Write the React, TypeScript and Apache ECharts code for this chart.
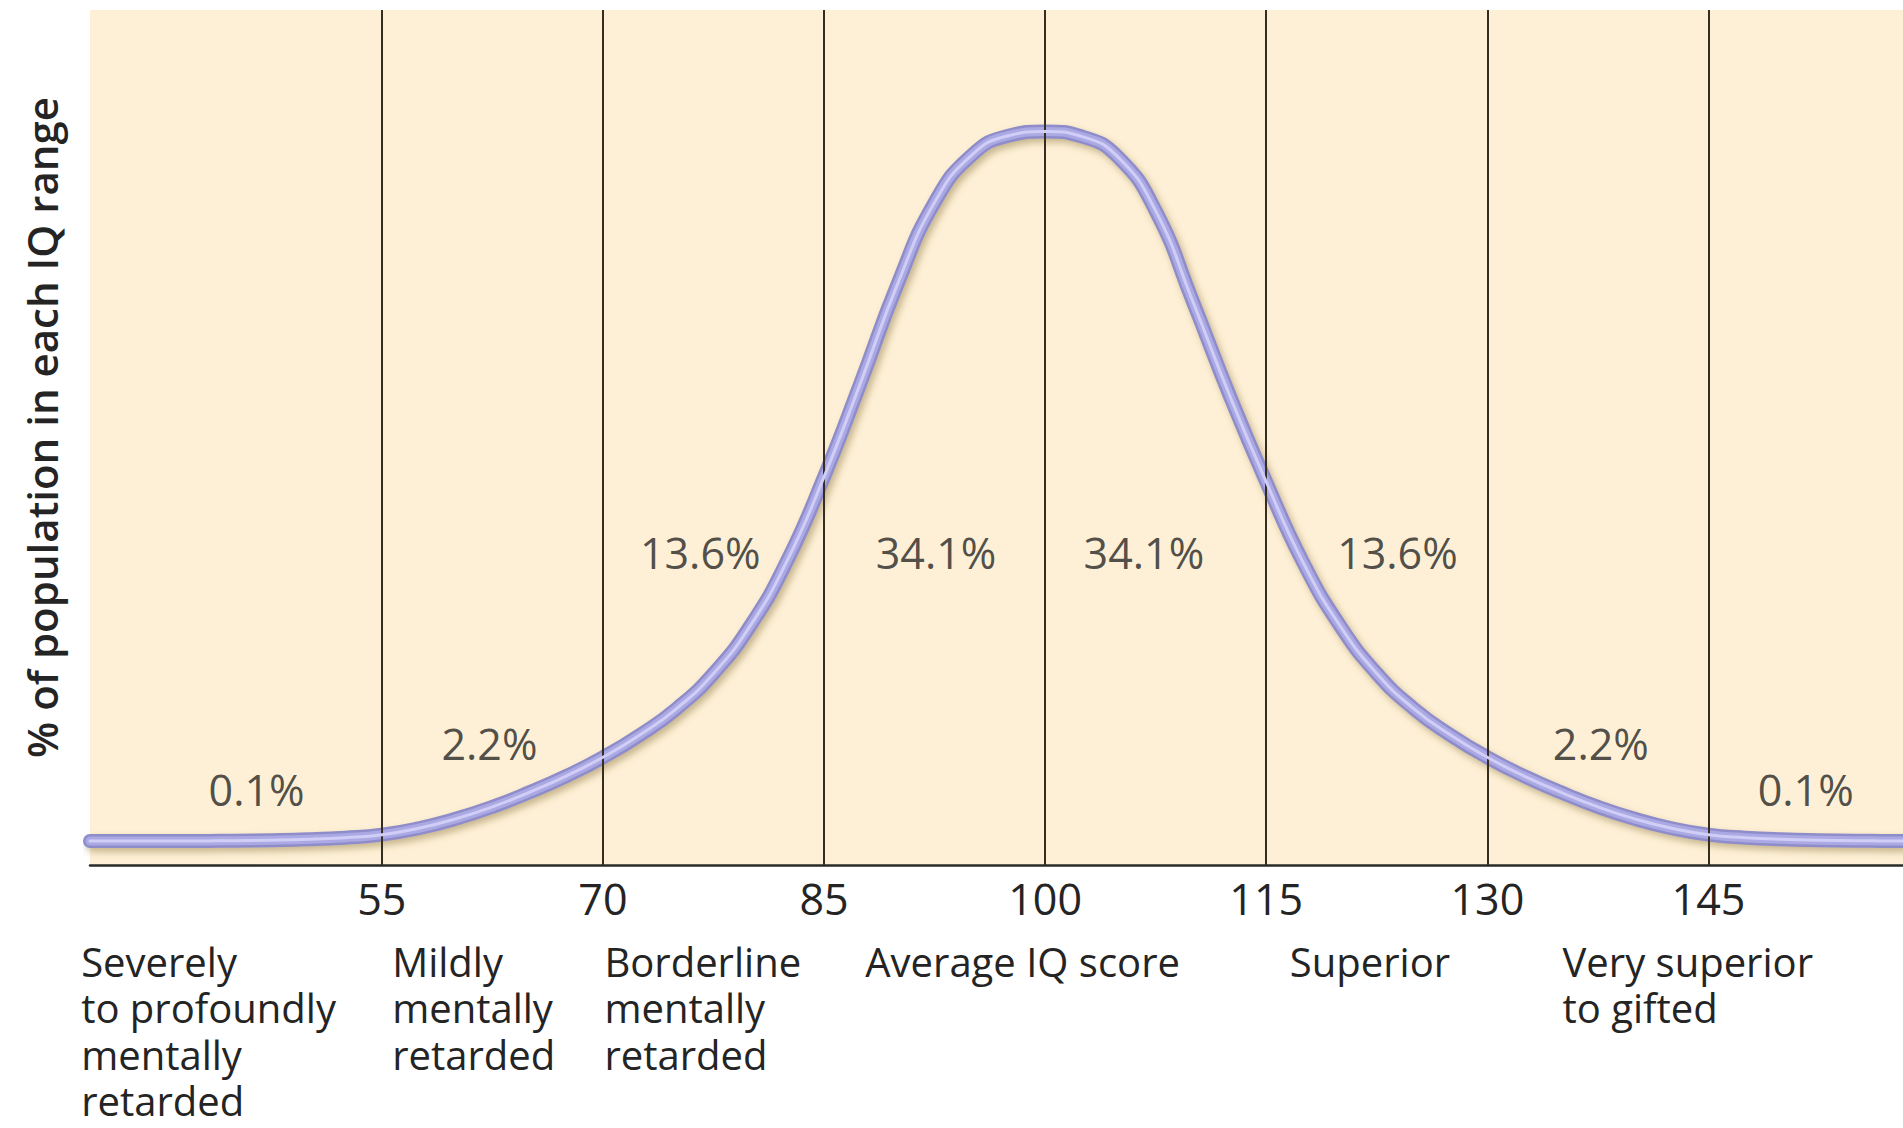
import React, { useEffect, useRef } from "react";
import * as echarts from "echarts";

// ---- data ----
const tickValues = [55, 70, 85, 100, 115, 130, 145];

const curveIQ = [
  35.2, 37.5, 40, 42.5, 45, 47.5, 50, 52.5, 55, 57.5, 60, 62.5, 65, 67.5, 70, 72.5, 75, 77.5, 80, 82.5,
  85, 87.5, 90, 92.5, 95, 97.5, 100, 102.5, 105, 107.5, 110, 112.5, 115, 117.5, 120, 122.5, 125, 127.5,
  130, 132.5, 135, 137.5, 140, 142.5, 145, 147.5, 150, 152.5, 155, 157.5, 158.2,
];
const curveHeight = [
  2.8, 2.8, 2.8, 2.8, 2.85, 2.9, 3.0, 3.2, 3.55, 4.3, 5.4, 6.8, 8.5, 10.4, 12.6, 15.2, 18.3, 22.4, 28.0, 35.6,
  45.4, 56.5, 68.0, 77.5, 83.0, 85.3, 85.8, 85.2, 82.7, 76.5, 66.0, 55.0, 44.8, 35.4, 28.0, 22.4, 18.3, 15.2,
  12.6, 10.4, 8.5, 6.8, 5.4, 4.3, 3.55, 3.2, 3.0, 2.9, 2.85, 2.8, 2.8,
];

const pctLabels = ["0.1%", "2.2%", "13.6%", "34.1%", "34.1%", "13.6%", "2.2%", "0.1%"];
const pctIQ = [46.5, 62.3, 76.6, 92.6, 106.7, 123.9, 137.7, 151.6];
const pctHeight = [8.8, 14.2, 36.6, 36.6, 36.6, 36.6, 14.2, 8.8];

const categoryLabels = [
  "Severely\nto profoundly\nmentally\nretarded",
  "Mildly\nmentally\nretarded",
  "Borderline\nmentally\nretarded",
  "Average IQ score",
  "Superior",
  "Very superior\nto gifted",
];
const categoryStartIQ = [34.6, 55.7, 70.1, 87.8, 116.6, 135.1];

const yTitle = "% of population in each IQ range";

const FONT = "'Open Sans', 'Noto Sans', sans-serif";
const TEXT = "#242424";

export default function App() {
  const ref = useRef<HTMLDivElement>(null);

  useEffect(() => {
    document.body.style.margin = "0";
    const chart = echarts.init(ref.current!, null, { renderer: "svg" });
    const curveData = curveIQ.map((x, i) => [x, curveHeight[i]]);
    const tube = (width: number, color: string, z: number, extra: any = {}) => ({
      type: "line",
      data: curveData,
      smooth: 0.5,
      showSymbol: false,
      symbol: "none",
      silent: true,
      z,
      lineStyle: { width, color, cap: "round", join: "round", ...extra },
    });

    chart.setOption({
      animation: false,
      backgroundColor: "#ffffff",
      grid: {
        left: 90,
        right: 0,
        top: 10,
        bottom: 263,
        show: true,
        backgroundColor: "#FEF0D6",
        borderWidth: 0,
      },
      xAxis: {
        type: "value",
        min: 35.2,
        max: 158.2,
        axisLine: { show: true, lineStyle: { color: "#2a2a2a", width: 2.5 } },
        axisTick: { show: false },
        splitLine: { show: false },
        axisLabel: {
          customValues: tickValues,
          fontSize: 43,
          fontFamily: FONT,
          color: TEXT,
          margin: 12,
        },
      },
      yAxis: {
        type: "value",
        min: 0,
        max: 100,
        axisLine: { show: false },
        axisTick: { show: false },
        axisLabel: { show: false },
        splitLine: { show: false },
        name: yTitle,
        nameLocation: "middle",
        nameRotate: 90,
        nameGap: 28,
        nameTextStyle: {
          fontSize: 42,
          fontWeight: 600,
          fontFamily: FONT,
          color: TEXT,
          padding: [0, 0, 0, 20],
        },
      },
      series: [
        {
          type: "line",
          data: [],
          z: 1,
          silent: true,
          markLine: {
            silent: true,
            symbol: ["none", "none"],
            label: { show: false },
            lineStyle: { color: "#352d20", width: 2, type: "solid" },
            emphasis: { disabled: true },
            data: tickValues.map((v) => ({ xAxis: v })),
          },
        },
        tube(14, "#8f8cca", 3, {
          shadowColor: "rgba(130,110,50,0.45)",
          shadowBlur: 7,
          shadowOffsetX: 3,
          shadowOffsetY: 4,
        }),
        tube(9, "#aba9e4", 4),
        tube(3, "#d0cef6", 5),
        {
          type: "scatter",
          z: 6,
          silent: true,
          symbolSize: 0,
          data: pctLabels.map((t, i) => ({ name: t, value: [pctIQ[i], pctHeight[i]] })),
          label: {
            show: true,
            position: "inside",
            formatter: "{b}",
            fontSize: 43,
            fontFamily: FONT,
            color: TEXT,
          },
        },
      ],
    });

    const axisY = chart.convertToPixel({ yAxisIndex: 0 }, 0) as number;
    chart.setOption({
      graphic: categoryLabels.map((t, i) => ({
        type: "text",
        x: chart.convertToPixel({ xAxisIndex: 0 }, categoryStartIQ[i]) as number,
        y: axisY + 73,
        silent: true,
        style: {
          text: t,
          fontSize: 40,
          fontFamily: FONT,
          fill: TEXT,
          lineHeight: 46.5,
          align: "left",
          verticalAlign: "top",
        },
      })),
    });

    return () => chart.dispose();
  }, []);

  return (
    <div
      ref={ref}
      style={{ position: "absolute", left: 0, top: 0, width: 1903, height: 1128 }}
    />
  );
}
